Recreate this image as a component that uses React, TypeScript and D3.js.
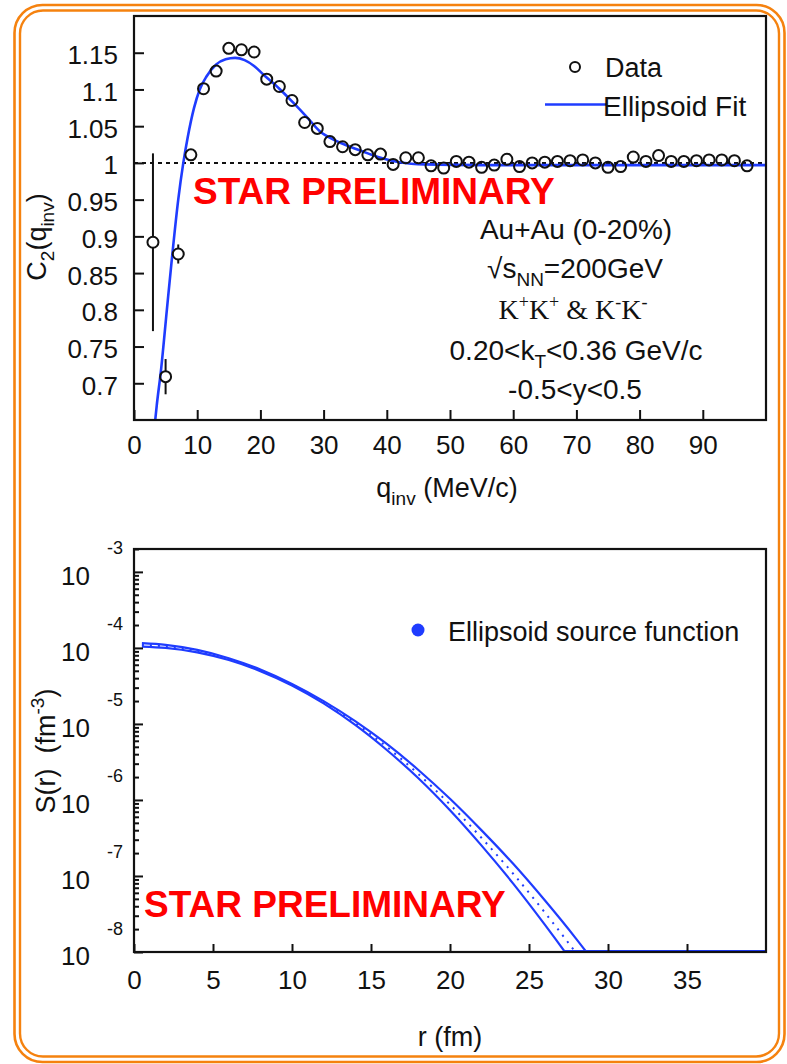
import React, { useEffect, useRef } from 'react';
import * as d3 from 'd3';

const FONT = "'Liberation Sans', Arial, Helvetica, sans-serif";
const SERIF = "'Liberation Serif', 'Times New Roman', serif";
const BLUE = '#1f3cff';
const ORANGE = '#f5820f';
const RED = '#ff0000';

// ---- top panel: C2(qinv) ----
const qInv = [3, 5, 7, 9, 11, 13, 15, 17, 19, 21, 23, 25, 27, 29, 31, 33, 35, 37, 39, 41, 43, 45, 47, 49,
  51, 53, 55, 57, 59, 61, 63, 65, 67, 69, 71, 73, 75, 77, 79, 81, 83, 85, 87, 89, 91, 93, 95, 97];
const c2 = [0.892, 0.709, 0.876, 1.011, 1.101, 1.125, 1.156, 1.154, 1.151, 1.114, 1.104, 1.085, 1.055, 1.047,
  1.029, 1.022, 1.018, 1.011, 1.012, 0.998, 1.007, 1.007, 0.996, 0.993, 1.002, 1.001, 0.994, 0.997, 1.005,
  0.995, 1.000, 1.001, 1.002, 1.003, 1.004, 1.000, 0.994, 0.995, 1.008, 1.002, 1.010, 1.002, 1.002, 1.003,
  1.004, 1.004, 1.003, 0.996];
const c2Err = [0.121, 0.024, 0.013, 0.006, 0.005, 0.004, 0.004, 0.004, 0.003, 0.003, 0.003, 0.003, 0.003, 0.003,
  0.003, 0.002, 0.002, 0.002, 0.002, 0.002, 0.002, 0.002, 0.002, 0.002, 0.002, 0.002, 0.002, 0.002, 0.002,
  0.002, 0.002, 0.002, 0.002, 0.002, 0.002, 0.002, 0.002, 0.002, 0.002, 0.002, 0.002, 0.002, 0.002, 0.002,
  0.002, 0.002, 0.002, 0.002];

// ellipsoid fit curve
const fitQ = [3.0, 3.6, 4.3, 5.2, 6.0, 7.0, 7.8, 8.5, 9.5, 10.4, 11.5, 13, 14.5, 16, 17.5, 19, 20.5, 23, 25.2,
  27.5, 29.4, 32, 34.2, 37, 39.4, 42, 46, 55, 70, 100];
const fitC = [0.62, 0.67, 0.72, 0.80, 0.87, 0.95, 1.00, 1.035, 1.075, 1.10, 1.118, 1.134, 1.141, 1.143, 1.140,
  1.132, 1.120, 1.101, 1.082, 1.061, 1.043, 1.030, 1.022, 1.013, 1.006, 1.001, 0.998, 0.997, 0.997, 0.997];

const qTicks = [0, 10, 20, 30, 40, 50, 60, 70, 80, 90];
const c2Ticks = [0.7, 0.75, 0.8, 0.85, 0.9, 0.95, 1, 1.05, 1.1, 1.15];

// ---- bottom panel: source function S(r) ----
const srcR = [0.5, 2, 4, 6, 8, 10, 12, 14, 16, 18, 20, 22, 24, 26, 28, 30, 35, 40];
const srcCenter = [1.096e-4, 1.047e-4, 9.06e-5, 7.11e-5, 5.07e-5, 3.28e-5, 1.928e-5, 1.028e-5, 4.98e-6, 2.19e-6,
  8.71e-7, 3.16e-7, 1.07e-7, 3.31e-8, 9.55e-9, 2.51e-9, 6.3e-11, 1e-12];
const srcUpper = [1.153e-4, 1.096e-4, 9.40e-5, 7.31e-5, 5.19e-5, 3.36e-5, 1.995e-5, 1.089e-5, 5.46e-6, 2.48e-6,
  1.035e-6, 3.98e-7, 1.445e-7, 4.79e-8, 1.48e-8, 4.17e-9, 1.26e-10, 2.5e-12];
const srcLower = [1.042e-4, 1.0e-4, 8.73e-5, 6.92e-5, 4.95e-5, 3.21e-5, 1.862e-5, 9.70e-6, 4.54e-6, 1.93e-6,
  7.33e-7, 2.51e-7, 7.94e-8, 2.29e-8, 6.17e-9, 1.51e-9, 3.2e-11, 4e-13];

const rTicks = [0, 5, 10, 15, 20, 25, 30, 35];
const decades = [1e-8, 1e-7, 1e-6, 1e-5, 1e-4, 1e-3];

const App: React.FC = () => {
  const svgRef = useRef<SVGSVGElement>(null);

  useEffect(() => {
    if (!svgRef.current) return;
    const svg = d3.select(svgRef.current);
    svg.selectAll('*').remove();

    // orange double rounded border
    svg.append('rect').attr('x', 14.5).attr('y', 5).attr('width', 770).attr('height', 1057)
      .attr('rx', 28).attr('fill', 'none').attr('stroke', ORANGE).attr('stroke-width', 2.6);
    svg.append('rect').attr('x', 20).attr('y', 10.5).attr('width', 759).attr('height', 1046)
      .attr('rx', 23).attr('fill', 'none').attr('stroke', ORANGE).attr('stroke-width', 2.4);

    // ================= top panel =================
    const x = d3.scaleLinear().domain([0, 100]).range([134, 766]);
    const y = d3.scaleLinear().domain([0.65, 1.2]).range([420, 16]);

    const defs = svg.append('defs');
    defs.append('clipPath').attr('id', 'clipTop')
      .append('rect').attr('x', 134).attr('y', 16).attr('width', 632).attr('height', 404);
    defs.append('clipPath').attr('id', 'clipBot')
      .append('rect').attr('x', 134).attr('y', 549).attr('width', 632).attr('height', 403);

    const top = svg.append('g');

    // dashed line at 1
    top.append('line')
      .attr('x1', x(0)).attr('x2', x(100)).attr('y1', y(1)).attr('y2', y(1))
      .attr('stroke', '#111').attr('stroke-width', 2).attr('stroke-dasharray', '4,4');

    // fit
    const fitLine = d3.line<number>()
      .x((_, i) => x(fitQ[i]))
      .y(d => y(d))
      .curve(d3.curveMonotoneX);
    top.append('path').datum(fitC).attr('d', fitLine).attr('fill', 'none')
      .attr('stroke', BLUE).attr('stroke-width', 2.6).attr('clip-path', 'url(#clipTop)');

    // data points with error bars
    const mr = 5.5;
    qInv.forEach((q, i) => {
      const cx = x(q), cy = y(c2[i]);
      const yHi = y(c2[i] + c2Err[i]), yLo = y(c2[i] - c2Err[i]);
      if (cy - yHi > mr) {
        top.append('line').attr('x1', cx).attr('x2', cx).attr('y1', Math.max(yHi, 16)).attr('y2', cy - mr)
          .attr('stroke', '#111').attr('stroke-width', 2);
      }
      if (yLo - cy > mr) {
        top.append('line').attr('x1', cx).attr('x2', cx).attr('y1', cy + mr).attr('y2', Math.min(yLo, 420))
          .attr('stroke', '#111').attr('stroke-width', 2);
      }
      top.append('circle').attr('cx', cx).attr('cy', cy).attr('r', mr)
        .attr('fill', 'none').attr('stroke', '#111').attr('stroke-width', 2);
    });

    // axes
    const xAxis = top.append('g').attr('transform', 'translate(0,420)')
      .call(d3.axisBottom(x).tickValues(qTicks).tickSizeInner(-10).tickSizeOuter(0).tickPadding(16)
        .tickFormat(d => String(d)));
    const yAxis = top.append('g').attr('transform', 'translate(134,0)')
      .call(d3.axisLeft(y).tickValues(c2Ticks).tickSizeInner(-10).tickSizeOuter(0).tickPadding(16)
        .tickFormat(d => String(+(+d).toFixed(2))));
    [xAxis, yAxis].forEach(a => {
      a.select('.domain').remove();
      a.selectAll('.tick line').attr('stroke', '#111').attr('stroke-width', 2);
      a.selectAll('text').attr('font-family', FONT).attr('font-size', 26).attr('fill', '#111');
    });
    yAxis.selectAll('text').attr('dy', '0.42em');

    top.append('rect').attr('x', 134).attr('y', 16).attr('width', 632).attr('height', 404)
      .attr('fill', 'none').attr('stroke', '#111').attr('stroke-width', 2.2);

    // axis titles
    const tx = top.append('text').attr('x', 447).attr('y', 497).attr('text-anchor', 'middle')
      .attr('font-family', FONT).attr('font-size', 27).attr('fill', '#111');
    tx.append('tspan').text('q');
    tx.append('tspan').attr('font-size', 19).attr('dy', 8).text('inv');
    tx.append('tspan').attr('dy', -8).text(' (MeV/c)');

    const ty = top.append('text').attr('transform', 'translate(46,237) rotate(-90)').attr('text-anchor', 'middle')
      .attr('font-family', FONT).attr('font-size', 27).attr('fill', '#111');
    ty.append('tspan').text('C');
    ty.append('tspan').attr('font-size', 19).attr('dy', 8).text('2');
    ty.append('tspan').attr('dy', -8).text('(q');
    ty.append('tspan').attr('font-size', 19).attr('dy', 8).text('inv');
    ty.append('tspan').attr('dy', -8).text(')');

    // legend
    top.append('circle').attr('cx', 575).attr('cy', 67).attr('r', 5)
      .attr('fill', 'none').attr('stroke', '#111').attr('stroke-width', 2);
    top.append('text').attr('x', 605).attr('y', 77).attr('font-family', FONT).attr('font-size', 27)
      .attr('fill', '#111').text('Data');
    top.append('line').attr('x1', 545).attr('x2', 607).attr('y1', 104.5).attr('y2', 104.5)
      .attr('stroke', BLUE).attr('stroke-width', 2.6);
    top.append('text').attr('x', 603).attr('y', 116).attr('font-family', FONT).attr('font-size', 28)
      .attr('fill', '#111').text('Ellipsoid Fit');

    // annotation
    const ann = top.append('g').attr('font-family', FONT).attr('font-size', 28).attr('fill', '#111')
      .attr('text-anchor', 'middle');
    ann.append('text').attr('x', 576).attr('y', 239).text('Au+Au (0-20%)');
    const s1 = ann.append('text').attr('x', 575).attr('y', 278);
    s1.append('tspan').text('√s');
    s1.append('tspan').attr('font-size', 19).attr('dy', 8).text('NN');
    s1.append('tspan').attr('dy', -8).text('=200GeV');
    const kk = ann.append('text').attr('x', 573).attr('y', 319).attr('font-family', SERIF);
    kk.append('tspan').text('K');
    kk.append('tspan').attr('font-size', 18).attr('dy', -11).text('+');
    kk.append('tspan').attr('dy', 11).text('K');
    kk.append('tspan').attr('font-size', 18).attr('dy', -11).text('+');
    kk.append('tspan').attr('dy', 11).text(' & K');
    kk.append('tspan').attr('font-size', 18).attr('dy', -11).text('-');
    kk.append('tspan').attr('dy', 11).text('K');
    kk.append('tspan').attr('font-size', 18).attr('dy', -11).text('-');
    const kt = ann.append('text').attr('x', 576).attr('y', 360);
    kt.append('tspan').text('0.20<k');
    kt.append('tspan').attr('font-size', 19).attr('dy', 8).text('T');
    kt.append('tspan').attr('dy', -8).text('<0.36 GeV/c');
    ann.append('text').attr('x', 575).attr('y', 399).text('-0.5<y<0.5');

    top.append('text').attr('x', 193).attr('y', 204).attr('font-family', FONT).attr('font-weight', 'bold')
      .attr('font-size', 37).attr('fill', RED).text('STAR PRELIMINARY');

    // ================= bottom panel =================
    const xb = d3.scaleLinear().domain([0, 40]).range([134, 766]);
    const yb = d3.scaleLog().domain([1e-8, 2e-3]).range([952, 549]);
    const bot = svg.append('g');

    const srcLine = (vals: number[]) => d3.line<number>()
      .x((_, i) => xb(srcR[i]))
      .y(d => yb(d))
      .curve(d3.curveMonotoneX)(vals);

    bot.append('path').attr('d', srcLine(srcUpper)).attr('fill', 'none')
      .attr('stroke', BLUE).attr('stroke-width', 2.2).attr('clip-path', 'url(#clipBot)');
    bot.append('path').attr('d', srcLine(srcLower)).attr('fill', 'none')
      .attr('stroke', BLUE).attr('stroke-width', 2.2).attr('clip-path', 'url(#clipBot)');
    bot.append('path').attr('d', srcLine(srcCenter)).attr('fill', 'none')
      .attr('stroke', BLUE).attr('stroke-width', 2).attr('stroke-dasharray', '2,6')
      .attr('clip-path', 'url(#clipBot)');

    // where the lower edge leaves the frame, the band runs along the floor
    const yMin = yb.domain()[0];
    let rCross = srcR[srcR.length - 1];
    for (let i = 0; i < srcLower.length - 1; i++) {
      if (srcLower[i] >= yMin && srcLower[i + 1] < yMin) {
        const a = Math.log10(srcLower[i]), b = Math.log10(srcLower[i + 1]);
        rCross = srcR[i] + (a - Math.log10(yMin)) / (a - b) * (srcR[i + 1] - srcR[i]);
        break;
      }
    }
    bot.append('line').attr('x1', xb(rCross)).attr('x2', xb(40)).attr('y1', yb(yMin) - 1).attr('y2', yb(yMin) - 1)
      .attr('stroke', BLUE).attr('stroke-width', 2.2);

    const minors: number[] = [];
    decades.forEach(d => {
      for (let k = 2; k <= 9; k++) if (k * d <= 2e-3) minors.push(k * d);
    });

    const xbAxis = bot.append('g').attr('transform', 'translate(0,952)')
      .call(d3.axisBottom(xb).tickValues(rTicks).tickSizeInner(-8).tickSizeOuter(0).tickPadding(19)
        .tickFormat(d => String(d)));
    const ybAxis = bot.append('g').attr('transform', 'translate(134,0)')
      .call(d3.axisLeft(yb).tickValues(decades).tickSizeInner(-9).tickSizeOuter(0).tickFormat(() => ''));
    const ybMinor = bot.append('g').attr('transform', 'translate(134,0)')
      .call(d3.axisLeft(yb).tickValues(minors).tickSizeInner(-5).tickSizeOuter(0).tickFormat(() => ''));
    [xbAxis, ybAxis, ybMinor].forEach(a => {
      a.select('.domain').remove();
      a.selectAll('.tick line').attr('stroke', '#111').attr('stroke-width', 2);
      a.selectAll('text').attr('font-family', FONT).attr('font-size', 26).attr('fill', '#111');
    });

    decades.forEach(d => {
      bot.append('text').attr('x', 90).attr('y', yb(d) + 13).attr('text-anchor', 'end')
        .attr('font-family', FONT).attr('font-size', 26).attr('fill', '#111').text('10');
      bot.append('text').attr('x', 107).attr('y', yb(d) - 17.5)
        .attr('font-family', FONT).attr('font-size', 18).attr('fill', '#111')
        .text(String(Math.round(Math.log10(d))));
    });

    bot.append('rect').attr('x', 134).attr('y', 549).attr('width', 632).attr('height', 403)
      .attr('fill', 'none').attr('stroke', '#111').attr('stroke-width', 2.2);

    bot.append('text').attr('x', 450).attr('y', 1046).attr('text-anchor', 'middle')
      .attr('font-family', FONT).attr('font-size', 27).attr('fill', '#111').text('r (fm)');

    const sy = bot.append('text').attr('transform', 'translate(55,751) rotate(-90)').attr('text-anchor', 'middle')
      .attr('font-family', FONT).attr('font-size', 27).attr('fill', '#111').style('white-space', 'pre');
    sy.append('tspan').text('S(r)  (fm');
    sy.append('tspan').attr('font-size', 19).attr('dy', -11).text('-3');
    sy.append('tspan').attr('dy', 11).text(')');

    bot.append('circle').attr('cx', 418).attr('cy', 630).attr('r', 6.5).attr('fill', BLUE);
    bot.append('text').attr('x', 448).attr('y', 641).attr('font-family', FONT).attr('font-size', 27)
      .attr('fill', '#111').text('Ellipsoid source function');

    bot.append('text').attr('x', 144).attr('y', 917).attr('font-family', FONT).attr('font-weight', 'bold')
      .attr('font-size', 37).attr('fill', RED).text('STAR PRELIMINARY');
  }, []);

  return (
    <div style={{ position: 'absolute', left: 0, top: 0, width: 787, height: 1064, background: '#fff' }}>
      <svg ref={svgRef} width={787} height={1064} style={{ display: 'block' }}></svg>
    </div>
  );
};

export default App;
